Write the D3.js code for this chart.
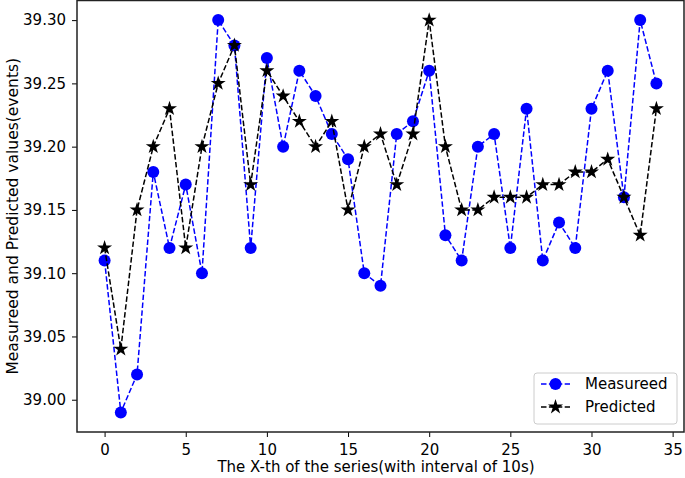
<!DOCTYPE html>
<html><head><meta charset="utf-8">
<script src="https://cdn.jsdelivr.net/npm/d3@7"></script>
<style>body{margin:0;background:#fff}svg{display:block}text{font-family:"DejaVu Sans",sans-serif}</style>
</head><body>
<script>
const xIndex = d3.range(35);
const measured = [39.11,38.99,39.02,39.18,39.12,39.17,39.10,39.30,39.28,39.12,39.27,39.20,39.26,39.24,39.21,39.19,39.10,39.09,39.21,39.22,39.26,39.13,39.11,39.20,39.21,39.12,39.23,39.11,39.14,39.12,39.23,39.26,39.16,39.30,39.25];
const predicted = [39.12,39.04,39.15,39.20,39.23,39.12,39.20,39.25,39.28,39.17,39.26,39.24,39.22,39.20,39.22,39.15,39.20,39.21,39.17,39.21,39.30,39.20,39.15,39.15,39.16,39.16,39.16,39.17,39.17,39.18,39.18,39.19,39.16,39.13,39.23];
const xTicks = [0,5,10,15,20,25,30,35];
const yTicks = [39.00,39.05,39.10,39.15,39.20,39.25,39.30];
const seriesNames = ["Measureed","Predicted"];

const W=685,H=478;
const L=77,R=684,T=0.5,B=432;
const svg=d3.select("body").append("svg").attr("width",W).attr("height",H);
const x=d3.scaleLinear().domain([-1.7,35.7]).range([L,R]);
const y=d3.scaleLinear().domain([38.9745,39.3155]).range([B,T]);

const xa=svg.append("g").attr("transform",`translate(0,${B})`)
  .call(d3.axisBottom(x).tickValues(xTicks).tickSize(5).tickPadding(4).tickFormat(d3.format("d")));
const ya=svg.append("g").attr("transform",`translate(${L},0)`)
  .call(d3.axisLeft(y).tickValues(yTicks).tickSize(5).tickPadding(6).tickFormat(d3.format(".2f")));
[xa,ya].forEach(a=>{a.select(".domain").remove();a.selectAll("text").attr("font-size",15).attr("fill","#000").attr("font-family","DejaVu Sans");a.selectAll("line").attr("stroke","#000").attr("stroke-width",1);});
xa.selectAll("text").attr("dy","0.95em");

// frame
svg.append("rect").attr("x",L).attr("y",T).attr("width",R-L).attr("height",B-T).attr("fill","none").attr("stroke","#222").attr("stroke-width",1.5);

const line=d3.line().x((d,i)=>x(xIndex[i])).y(d=>y(d));
const star=d3.symbol().type(d3.symbolStar).size(70);

// measured
svg.append("path").datum(measured).attr("d",line).attr("fill","none").attr("stroke","#0000ff").attr("stroke-width",1.5).attr("stroke-dasharray","5.5,2.4");
svg.append("g").selectAll("circle").data(measured).join("circle").attr("cx",(d,i)=>x(xIndex[i])).attr("cy",d=>y(d)).attr("r",6).attr("fill","#0000ff");
// predicted
svg.append("path").datum(predicted).attr("d",line).attr("fill","none").attr("stroke","#000").attr("stroke-width",1.5).attr("stroke-dasharray","5.5,2.4");
svg.append("g").selectAll("path").data(predicted).join("path").attr("d",star).attr("transform",(d,i)=>`translate(${x(xIndex[i])},${y(d)})`).attr("fill","#000");

// labels
svg.append("text").attr("x",376).attr("y",472).attr("text-anchor","middle").attr("font-size",15).text("The X-th of the series(with interval of 10s)");
svg.append("text").attr("transform",`translate(13,${(T+B)/2}) rotate(-90)`).attr("text-anchor","middle").attr("dy","0.35em").attr("font-size",15.5).text("Measureed and Predicted values(events)");

// legend
const lg=svg.append("g");
lg.append("rect").attr("x",534).attr("y",373).attr("width",143).attr("height",51).attr("rx",3).attr("fill","#fff").attr("fill-opacity",0.8).attr("stroke","#ccc");
[["#0000ff","circle"],["#000","star"]].forEach((s,i)=>{
  const cy=384+i*23;
  lg.append("line").attr("x1",541).attr("x2",570).attr("y1",cy).attr("y2",cy).attr("stroke",s[0]).attr("stroke-width",1.5).attr("stroke-dasharray","5.5,2.4");
  if(s[1]==="circle") lg.append("circle").attr("cx",555.5).attr("cy",cy).attr("r",6).attr("fill",s[0]);
  else lg.append("path").attr("d",star).attr("transform",`translate(555.5,${cy})`).attr("fill",s[0]);
  lg.append("text").attr("x",585).attr("y",cy).attr("dy","0.35em").attr("font-size",15).text(seriesNames[i]);
});
</script>
</body></html>
